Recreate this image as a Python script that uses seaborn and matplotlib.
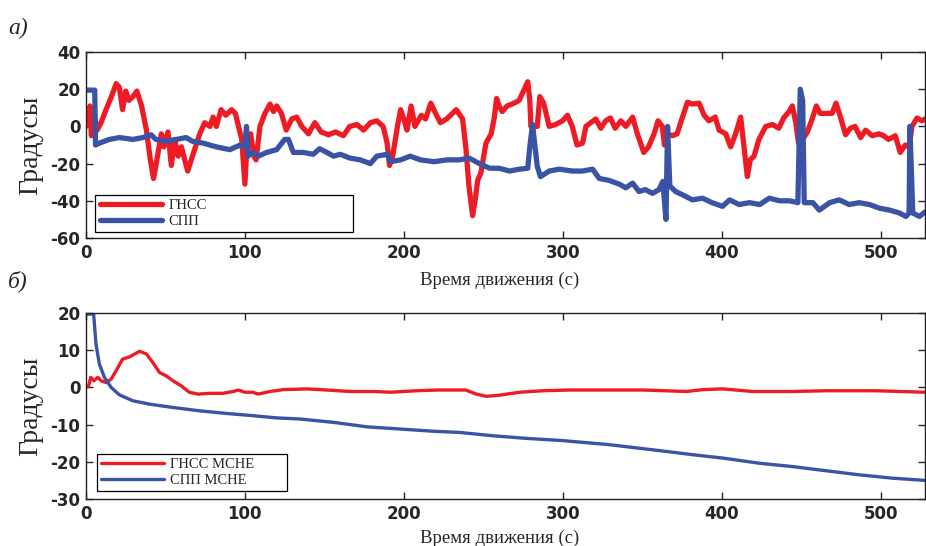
import matplotlib
matplotlib.use("Agg")
import matplotlib.pyplot as plt
import seaborn as sns
import pandas as pd

# panel a) raw heading error, degrees vs time (s)
t_gnss_a = [0, 2.5, 3.4, 5, 7, 9.5, 12.6, 16, 19, 21, 23, 25, 27, 29.5, 32, 35, 38, 40.5, 42.5, 44.6,
            47.4, 49, 51.6, 53.7, 55.8, 58, 60, 64, 67, 71.6, 74.7, 78, 80, 82, 85, 88, 91.6, 94, 96, 98,
            100, 101.5, 103.6, 105.7, 107, 109.5, 112.6, 115.8, 118, 120, 123, 126, 129.5, 132.6, 135.8,
            140, 144, 148, 152.6, 157, 162, 166, 170.5, 174.7, 179, 183, 187, 189.5, 191, 193, 196, 198,
            200, 202, 204.6, 207, 211, 213.7, 217, 220, 223, 227, 233, 237, 239, 241, 243.3, 245, 246.5,
            248.5, 251.7, 255, 257, 258.4, 260, 262, 265, 269.5, 272.6, 275.8, 278, 279.3, 280, 284,
            285.6, 288, 291.5, 295.5, 299.9, 303, 306, 309, 312.5, 314.6, 317.7, 320.8, 324, 327, 330,
            333, 336.6, 339.7, 344, 347, 351, 354, 357.5, 360, 362.7, 364, 365.8, 369, 372, 375, 378.5,
            381.6, 385.8, 389, 392, 396, 398.4, 402.6, 405.7, 408.8, 412, 414.8, 416.2, 418, 420.4,
            423.5, 427.8, 432, 436, 439, 442.5, 444.5, 446.7, 448.4, 451, 454, 457, 459.6, 462, 465.5,
            469.5, 472, 474.8, 478, 481, 484, 487.5, 490.6, 494.8, 499, 502, 505, 509.3, 512.4, 515.6,
            518, 519.8, 523, 526, 528]
v_gnss_a = [0, 11, -5, 7, -2, 2, 9, 16, 23, 21, 9, 19, 14, 16, 19, 11, -2, -18, -28, -18,
            -4, -11, -3, -21, -7, -16, -11, -24, -16, -4, 2, 0, 5, 0, 9, 6, 9, 7, 0, -7,
            -31, -7, -4, -16, -18, 0, 7, 12, 8, 11, 7, -2, 4, 5, 0,
            -4, 2, -3, -4.5, -3, -5, 0, 1, -2, 2, 3, 0, -9, -21, -16, 0, 9,
            4, -2, 11, 0, 6, 4, 12.5, 7, 2, 4, 9, 4, -11, -32, -48, -39, -29,
            -25, -9, -4, 5, 15, 11, 8, 11, 12.5, 14, 20, 24, 14, 0, 0,
            16, 12.5, 0, 1, 3, 6, 0, -10, -9, 0, 2, 4, -1, 3, 4.5,
            -1, 3, 0, 5, -4, -14, -11, -4, 3, 0, -10, -4, -5, -4, 4, 13,
            12, 12.5, 6, 3, 5, -2, -4, -11, -4, 5, -16, -27, -18, -16,
            -7, 0, 1, -1, 4.5, 8, 11, 2, -9, -7, -3, 4, 11, 7, 7,
            7, 12.5, 5, -4.5, -1, 0, -6, -2, -5, -4, -5, -7, -5, -14, -10,
            -11, 0, 4.5, 3, 4]

t_spp_a = [0, 5.5, 6, 8.4, 14.7, 21, 29.5, 35.8, 41, 44, 50.5, 57, 63, 67, 73.7, 82, 90.5, 97, 100,
           101, 102, 105, 108.4, 113.7, 120, 125, 127.4, 130.5, 136.8, 143, 147, 151.6, 155.8, 160,
           166, 172.6, 179, 183, 189.5, 191.6, 198, 204, 210.5, 219, 227, 235, 241, 247.6, 254, 260,
           266.6, 272.6, 278, 279.3, 281, 282.6, 284, 286, 291.5, 297.8, 306, 312.5, 318.8, 323, 329,
           335.5, 339.7, 344, 348, 352, 356.5, 360.6, 363, 365, 366, 367.4, 371, 377.6, 381.6, 388,
           394, 400.6, 405, 411, 417.5, 424, 430, 436.5, 442.8, 448, 449.5, 451, 452, 457.4, 461.5,
           468, 474, 480.3, 486.6, 493, 499.4, 505.7, 512, 516, 518, 518.5, 520.3, 524.5, 528]
v_spp_a = [19.5, 19.5, -10, -9, -7, -6, -7, -6, -4.5, -7, -8, -7, -6, -8, -9, -11, -12.5, -10, -11,
           0, -16, -14, -16, -14, -12.5, -7, -7, -14, -14, -15, -12, -14, -16, -15,
           -17, -18, -20, -16, -15, -19, -18, -16, -18, -19, -18, -18, -17, -20, -22.5, -22.5,
           -24, -23, -22.5, -11, 1, -11, -21.5, -27, -24, -23, -24, -24, -23, -28, -29,
           -31, -33, -30.5, -35, -34, -36, -34, -29.6, -50, 0, -32, -35, -37.7, -39.5, -38.6,
           -41, -43, -39.5, -42, -41, -42, -38.6, -40, -40, -41, 20, 14, -41, -41, -45,
           -41, -39.5, -42, -41, -42, -44, -45, -46.6, -48.4, -46.6, 0, -46.6, -48.4, -46]

# panel b) filtered (МСНЕ)
t_gnss_b = [0, 1.7, 3, 5, 7.4, 9.5, 12.6, 15.8, 19, 23, 27.4, 33.7, 38, 42, 46.3, 50.5, 54.7, 60, 65,
            70.5, 78, 86, 92.6, 95.8, 100, 105, 108.4, 115.8, 124, 139, 151.6, 166, 181, 191.6, 208,
            221, 239, 245.6, 252, 260, 273, 287.5, 304.4, 329.5, 350.5, 377.8, 388, 400.7, 419.6,
            444.7, 465.6, 497, 528]
v_gnss_b = [0, 0.5, 2.7, 1.8, 2.7, 1.8, 1.3, 2.2, 4.5, 7.6, 8.2, 9.7, 9, 6.7, 4, 3.1, 1.8, 0.4, -1.3,
            -1.8, -1.6, -1.6, -1.1, -0.7, -1.3, -1.3, -1.8, -1.1, -0.6, -0.4, -0.7, -1.1, -1.1, -1.3, -0.9,
            -0.7, -0.7, -1.8, -2.4, -2.1, -1.3, -0.9, -0.7, -0.7, -0.7, -1.1, -0.6, -0.4, -1.1,
            -1.1, -0.9, -0.9, -1.3]

t_spp_b = [0, 4.8, 6.3, 8.4, 11.6, 15.8, 21, 29.5, 40, 54.7, 71.6, 88.4, 105, 120, 134.7, 155.8, 176.8,
           198, 219, 235, 256, 277, 300, 329.5, 361, 382, 400.7, 424, 445, 465.6, 486.6, 507.5, 528]
v_spp_b = [19.7, 19.7, 11.6, 6.3, 2.7, 0, -2, -3.6, -4.5, -5.4, -6.3, -7, -7.6, -8.2, -8.5, -9.4, -10.6,
           -11.2, -11.8, -12.1, -13, -13.7, -14.3, -15.4, -17, -18.1, -19, -20.4, -21.3, -22.4, -23.5,
           -24.4, -25]

labels_a = ["ГНСС", "СПП"]
labels_b = ["ГНСС МСНЕ", "СПП МСНЕ"]
xlabel = "Время движения (с)"
ylabel = "Градусы"

RED = "#ed1c24"
BLUE = "#3a53a4"

sns.set_style("ticks")
plt.rcParams["font.family"] = ["DejaVu Sans"]
plt.rcParams["axes.unicode_minus"] = False

fig = plt.figure(figsize=(9.26, 5.46), dpi=100)
ax1 = fig.add_axes([86 / 926, 1 - 238 / 546, 839 / 926, 186 / 546])
ax2 = fig.add_axes([86 / 926, 1 - 499 / 546, 839 / 926, 186 / 546])


def draw_panel(ax, series, labels, lw, ylim, yticks, legend_box):
    for (t, v), lab, col in zip(series, labels, [RED, BLUE]):
        df = pd.DataFrame({"t": t, "v": v})
        sns.lineplot(data=df, x="t", y="v", ax=ax, color=col, linewidth=lw, sort=False,
                     estimator=None, label=lab)
    ax.set_xlim(0, 528)
    ax.set_ylim(*ylim)
    ax.set_xticks([0, 100, 200, 300, 400, 500])
    ax.set_yticks(yticks)
    ax.tick_params(direction="in", top=True, right=True, length=5, width=1, labelsize=12, pad=4)
    for lbl in ax.get_xticklabels() + ax.get_yticklabels():
        lbl.set_fontweight("bold")
    for sp in ax.spines.values():
        sp.set_linewidth(1)
        sp.set_color("#222222")
    ax.set_xlabel("")
    ax.set_ylabel(ylabel, family="Liberation Serif", fontsize=20, labelpad=5)
    leg = ax.legend(loc="lower left", bbox_to_anchor=legend_box, mode="expand", borderaxespad=0,
                    fancybox=False, framealpha=1, edgecolor="black", handlelength=4.3,
                    handletextpad=0.4, labelspacing=0.15, borderpad=0.3,
                    prop={"family": "Liberation Serif", "size": 10.5})
    leg.get_frame().set_linewidth(0.9)


draw_panel(ax1, [(t_gnss_a, v_gnss_a), (t_spp_a, v_spp_a)], labels_a, 3.8, (-60, 40),
           [-60, -40, -20, 0, 20, 40], (0.011, 0.032, 0.307, 0.2))
draw_panel(ax2, [(t_gnss_b, v_gnss_b), (t_spp_b, v_spp_b)], labels_b, 2.4, (-30, 20),
           [-30, -20, -10, 0, 10, 20], (0.013, 0.043, 0.226, 0.2))

fig.text(500 / 926, 1 - 280 / 546, xlabel, family="Liberation Serif", fontsize=13.5, ha="center", va="center")
fig.text(500 / 926, 1 - 538 / 546, xlabel, family="Liberation Serif", fontsize=13.5, ha="center", va="center")
fig.text(8 / 926, 1 - 28 / 546, "а)", family="Liberation Serif", style="italic", fontsize=17, va="center")
fig.text(8 / 926, 1 - 281 / 546, "б)", family="Liberation Serif", style="italic", fontsize=17, va="center")

fig.savefig("out.png", dpi=100)
